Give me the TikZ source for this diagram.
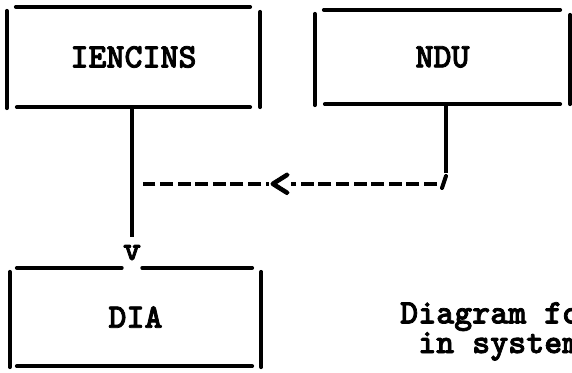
\documentclass[tikz,border=0pt]{standalone}
\usepackage{fontspec}
\newfontfamily\twfam[FakeBold=2.2]{lmmonolt10-bold.otf}
\newcommand\twfont{\fontsize{34.3}{26}\selectfont\twfam}
\tikzset{
  boxnode/.style={draw=none, inner sep=0pt, font=\twfont},
  boxline/.style={line width=3.8pt, line cap=round},
  conn/.style={line width=3.2pt},
  dashconn/.style={line width=4.2pt, dash pattern=on 13pt off 4.6pt},
  tmark/.style={font=\twfont, inner sep=1pt},
  caption/.style={font=\twfont, inner sep=0pt, anchor=base west, align=left}
}
\newcommand\typebox[1]{%
  \draw[boxline] ([xshift=9pt]#1.north west) -- ([xshift=-10pt]#1.north east);
  \draw[boxline] ([xshift=10pt]#1.south west) -- ([xshift=-10pt]#1.south east);
  \draw[boxline] ([yshift=-4pt]#1.north west) -- ([yshift=-1pt]#1.south west);
  \draw[boxline] ([yshift=-5pt]#1.north east) -- (#1.south east);
}
\begin{document}
\begin{tikzpicture}[x=1pt,y=-1pt]
\useasboundingbox (0,0) rectangle (572,372);
\clip (0,0) rectangle (572,372);

% boxes
\node[boxnode, minimum width=253pt, minimum height=100pt] (iencins) at (133.5,57) {IENCINS};
\node[boxnode, minimum width=255pt, minimum height=94pt] (ndu) at (442.5,57) {NDU};
\node[boxnode, minimum width=251pt, minimum height=98pt] (dia) at (135.5,317) {DIA};

\typebox{iencins}
\typebox{ndu}

% DIA box with the arrow mark in its top line
\node[tmark, anchor=base] (vmark) at (132,260) {v};
\draw[boxline] ([xshift=7pt]dia.north west) -- (vmark.west |- dia.north);
\draw[boxline] (vmark.east |- dia.north) -- ([xshift=-9pt]dia.north east);
\draw[boxline] ([xshift=7pt]dia.south west) -- ([xshift=-9pt]dia.south east);
\draw[boxline] ([yshift=-4pt]dia.north west) -- ([yshift=-1pt]dia.south west);
\draw[boxline] ([yshift=-4pt]dia.north east) -- ([yshift=-1pt]dia.south east);

% IENCINS -> DIA
\draw[conn, shorten >=7pt] (vmark |- iencins.south) -- (vmark.north);

% NDU -> dashed line
\coordinate (tickV) at (446,173);
\coordinate (tickA) at (446,176);
\coordinate (tickB) at (442,188);
\coordinate (dashR) at (437,184);
\coordinate (dashL) at (143,184);
\draw[conn] (tickV |- ndu.south) -- (tickV);
\draw[line width=4pt, line cap=round] (tickA) -- (tickB);
\draw[dashconn] (dashR) -- (dashL);
\node[tmark, fill=white, inner sep=0pt, scale=1.25] (lt) at (280,185) {<};

% caption (cut by the edge)
\node[caption] (cap) at (400,353) {Diagram for\\\phantom{D}in system};
\end{tikzpicture}
\end{document}
